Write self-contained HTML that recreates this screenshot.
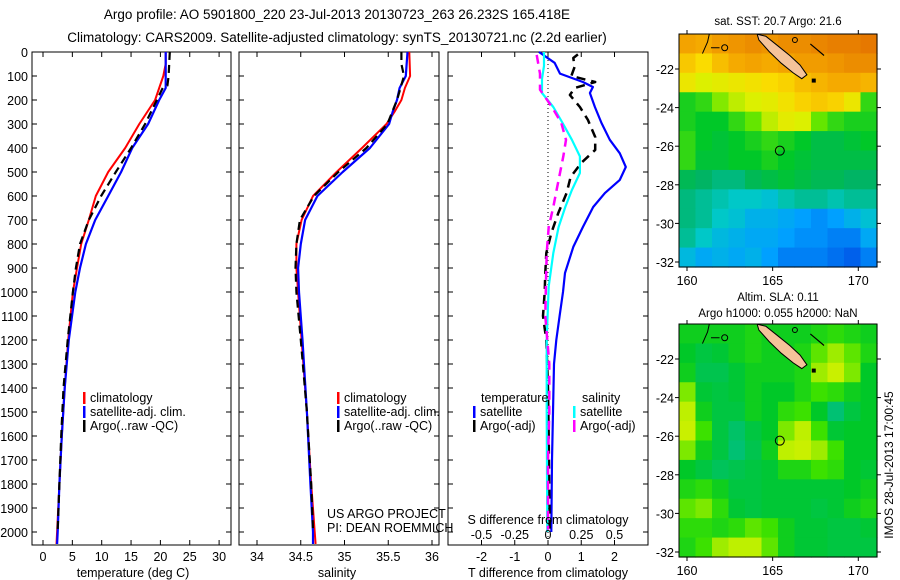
<!DOCTYPE html>
<html><head><meta charset="utf-8">
<style>
html,body{margin:0;padding:0;background:#fff;}
svg{display:block;font-family:"Liberation Sans",sans-serif;}
</style></head>
<body>
<svg id="c" width="900" height="580" viewBox="0 0 900 580" xmlns="http://www.w3.org/2000/svg">
<text x="337" y="19" font-size="13.5" text-anchor="middle">Argo profile: AO 5901800_220 23-Jul-2013 20130723_263 26.232S 165.418E</text>
<text x="337" y="42" font-size="13.5" text-anchor="middle">Climatology: CARS2009. Satellite-adjusted climatology: synTS_20130721.nc (2.2d earlier)</text>
<text x="778" y="25" font-size="11.5" text-anchor="middle">sat. SST: 20.7 Argo: 21.6</text>
<text x="778" y="301" font-size="11.5" text-anchor="middle">Altim. SLA: 0.11</text>
<text x="778" y="317" font-size="11.5" text-anchor="middle">Argo h1000: 0.055 h2000: NaN</text>
<text transform="translate(893,465) rotate(-90)" font-size="12" text-anchor="middle">IMOS 28-Jul-2013 17:00:45</text>
<g id="g"></g>
</svg>
<script>
// ---------- data ----------
const depthTicks=[0,100,200,300,400,500,600,700,800,900,1000,1100,1200,1300,1400,1500,1600,1700,1800,1900,2000];
const tempTicks=[0,5,10,15,20,25,30];
const salTicks=[34,34.5,35,35.5,36];
const salTickLabels=["34","34.5","35","35.5","36"];
const tdTicks=[-2,-1,0,1,2];
const sdTicks=[-0.5,-0.25,0,0.25,0.5];
const sdTickLabels=["-0.5","-0.25","0","0.25","0.5"];

const tDepth=[0,50,100,150,200,300,400,500,600,700,800,900,1000,1200,1400,1600,1800,2000,2050];
const tClim=[20.9,20.9,20.5,19.8,19.1,16.4,14.0,11.1,9.0,7.8,6.5,5.8,5.1,4.3,3.7,3.2,2.8,2.4,2.3];
const tSat=[20.9,20.9,20.9,20.9,19.8,17.9,15.2,13.3,11.1,8.9,7.3,6.3,5.5,4.4,3.7,3.2,2.8,2.5,2.4];
const tArgoDepth=[0,50,100,140,150,200,300,400,500,600,700,800,900,1000,1200,1400,1600,1800,1990];
const tArgo=[21.6,21.5,21.4,21.2,20.4,19.4,17.4,15.0,12.4,9.9,7.8,6.3,5.6,5.1,4.2,3.5,3.1,2.8,2.5];

const sDepth=[0,100,150,200,250,300,400,500,600,700,800,900,1000,1200,1500,1800,2000,2050];
const sClim=[35.74,35.75,35.69,35.65,35.57,35.48,35.2,34.91,34.64,34.51,34.45,34.45,34.47,34.51,34.57,34.62,34.66,34.67];
const sSat=[35.72,35.7,35.63,35.6,35.55,35.51,35.29,34.98,34.69,34.55,34.5,34.47,34.48,34.52,34.57,34.61,34.64,34.64];
const sArgoDepth=[0,50,100,200,300,400,500,600,700,800,900,1000,1200,1500,1800,1990];
const sArgo=[35.65,35.65,35.68,35.6,35.49,35.25,34.93,34.65,34.49,34.45,34.44,34.45,34.5,34.57,34.62,34.64];

const dTsatDepth=[0,45,90,125,146,171,229,296,366,422,479,533,588,646,729,812,921,1000,1100,1200,1300,1500,1700,2000];
const dTsat=[-0.27,0.2,0.36,1.05,1.35,1.26,1.41,1.61,1.86,2.16,2.34,2.16,1.71,1.36,1.05,0.76,0.51,0.45,0.35,0.25,0.18,0.15,0.12,0.1];
const dTargoDepth=[10,25,62,100,125,150,179,229,283,354,408,462,521,588,671,754,838,921,1000,1100,1200,1400,1600,1990];
const dTargo=[0.9,0.76,0.8,0.7,1.42,0.8,0.66,0.96,1.2,1.42,1.42,1.0,0.68,0.56,0.31,0.1,-0.05,-0.08,-0.1,-0.15,-0.05,0.0,0.02,0.05];
const dSsatDepth=[0,58,112,171,229,296,366,435,504,575,646,729,838,977,1200,1500,2000];
const dSsat=[-0.03,-0.03,-0.045,-0.045,0.04,0.11,0.18,0.24,0.24,0.18,0.13,0.08,0.04,0.005,-0.01,-0.01,-0.005];
const dSargoDepth=[12,90,157,229,296,366,435,504,575,646,729,838,950,1100,1300,1500,1700,1990];
const dSargo=[-0.085,-0.06,-0.06,0.03,0.1,0.135,0.115,0.09,0.065,0.04,0.005,-0.01,-0.015,-0.02,0.01,0.01,0.0,0.0];

const mapLons=[160,165,170];
const mapLatTicks=[-22,-24,-26,-28,-30,-32];
const sstGrid=[
[22.6,22.5,22.7,22.8,22.9,22.8,22.9,22.9,23.0,23.1,23.1,23.2],
[22.2,22.0,22.3,22.5,22.6,22.5,22.6,22.7,22.7,22.8,22.9,22.9],
[21.8,21.6,21.7,21.8,21.9,22.0,22.1,22.3,22.4,22.5,22.5,22.4],
[20.9,21.0,21.3,21.5,21.6,21.7,21.9,22.1,22.2,22.1,21.8,21.0],
[20.9,20.8,20.8,21.0,21.2,21.5,21.7,21.6,21.2,21.0,20.9,20.9],
[21.0,20.8,20.7,20.8,20.9,21.0,20.9,20.8,20.6,20.6,20.7,20.8],
[21.0,20.7,20.7,20.8,20.8,20.9,20.8,20.7,20.6,20.6,20.6,20.6],
[20.5,20.4,20.3,20.3,20.5,20.6,20.7,20.6,20.5,20.5,20.4,20.4],
[20.3,20.2,20.1,20.0,20.0,19.9,20.1,20.2,20.2,20.1,20.2,20.2],
[20.3,20.2,20.0,19.9,19.7,19.7,19.6,19.5,19.4,19.5,19.7,19.9],
[20.2,20.0,19.8,19.7,19.6,19.6,19.5,19.4,19.4,19.3,19.3,19.6],
[19.8,19.6,19.7,19.6,19.7,19.5,19.3,19.3,19.3,19.2,19.1,19.3]];
const slaGrid=[
[0.45,0.45,0.45,0.45,0.5,0.45,0.45,0.45,0.5,0.55,0.5,0.45],
[0.4,0.3,0.35,0.45,0.5,0.45,0.45,0.5,0.65,0.75,0.65,0.5],
[0.45,0.25,0.25,0.35,0.45,0.45,0.45,0.5,0.75,0.85,0.7,0.4],
[0.7,0.35,0.3,0.35,0.45,0.4,0.4,0.5,0.6,0.55,0.45,0.4],
[0.8,0.45,0.3,0.3,0.45,0.4,0.55,0.6,0.4,0.1,0.3,0.4],
[0.85,0.6,0.3,0.15,0.3,0.4,0.7,0.8,0.6,0.35,0.4,0.4],
[0.7,0.45,0.3,0.1,0.25,0.45,0.8,0.85,0.75,0.6,0.4,0.4],
[0.4,0.3,0.2,0.25,0.3,0.35,0.5,0.5,0.6,0.55,0.4,0.35],
[0.5,0.55,0.45,0.3,0.3,0.35,0.35,0.35,0.35,0.35,0.4,0.45],
[0.65,0.7,0.55,0.35,0.3,0.35,0.35,0.35,0.3,0.35,0.45,0.5],
[0.55,0.55,0.5,0.55,0.65,0.6,0.45,0.35,0.35,0.3,0.3,0.35],
[0.5,0.6,0.75,0.8,0.8,0.65,0.45,0.35,0.35,0.3,0.3,0.3]];
const argoLon=165.418, argoLat=-26.232;

// ---------- helpers ----------
const NS="http://www.w3.org/2000/svg";
const G=document.getElementById('g');
function mk(tag,attrs,parent){const e=document.createElementNS(NS,tag);for(const k in attrs)e.setAttribute(k,attrs[k]);(parent||G).appendChild(e);return e;}
function txt(x,y,s,size,anchor,parent){const e=mk('text',{x:x,y:y,'font-size':size,'text-anchor':anchor||'middle'},parent);e.textContent=s;return e;}

const yD=d=>52+d*0.24;               // depth axis (all profile panels)
const xT=v=>43+v*5.87;               // temperature
const xS=v=>257+(v-34)*87.5;         // salinity
const xTd=v=>548+v*33.25;            // T diff
const xSd=v=>548+v*133;              // S diff
const AXT=52,AXB=545;

function frame(x0,x1,name){
  const r=mk('rect',{x:x0,y:AXT,width:x1-x0,height:AXB-AXT,fill:'none',stroke:'#000','stroke-width':1});
  
  
}
function depthTickMarks(x0,x1){
  depthTicks.forEach(d=>{const y=yD(d);
    mk('line',{x1:x0,y1:y,x2:x0+5,y2:y,stroke:'#000'});
    mk('line',{x1:x1-5,y1:y,x2:x1,y2:y,stroke:'#000'});});
}
function xTickMarks(vals,fx){
  vals.forEach(v=>{const x=fx(v);
    mk('line',{x1:x,y1:AXT,x2:x,y2:AXT+5,stroke:'#000'});
    mk('line',{x1:x,y1:AXB-5,x2:x,y2:AXB,stroke:'#000'});});
}
function series(depths,vals,fx,color,w,dash,name){
  let d='';
  for(let i=0;i<depths.length;i++){d+=(i?'L':'M')+fx(vals[i]).toFixed(1)+','+yD(depths[i]).toFixed(1);}
  const p=mk('path',{d:d,fill:'none',stroke:color,'stroke-width':w,'stroke-linejoin':'round'});
  if(dash)p.setAttribute('stroke-dasharray',dash);
  
  
}
function legend(x,y,color,label,name){
  const g=mk('g',{});
  
  
  mk('rect',{x:x,y:y-10,width:2.5,height:12,fill:color},g);
  txt(x+7,y,label,12.5,'start',g);
}

// ---------- panel 1: temperature ----------
frame(32,231,'temperature-panel');
depthTickMarks(32,231);
xTickMarks(tempTicks,xT);
depthTicks.forEach(d=>{const t=txt(28,yD(d)+5,String(d),12.5,'end');
  
  });
tempTicks.forEach(v=>{const t=txt(xT(v),561,String(v),12.5);
  
  });
txt(133,577,'temperature (deg C)',12.5);
series(tDepth,tClim,xT,'#f00',2,null,'temp-climatology-line');
series(tDepth,tSat,xT,'#00f',2.2,null,'temp-satellite-line');
series(tArgoDepth,tArgo,xT,'#000',2.2,'8,5','temp-argo-line');
legend(83,402,'#f00','climatology','legend-climatology');
legend(83,416,'#00f','satellite-adj. clim.','legend-satellite');
legend(83,430,'#000','Argo(..raw -QC)','legend-argo');

// ---------- panel 2: salinity ----------
frame(239,439,'salinity-panel');
depthTickMarks(239,439);
xTickMarks(salTicks,xS);
salTicks.forEach((v,i)=>{const t=txt(xS(v),561,salTickLabels[i],12.5);
  
  });
txt(337,577,'salinity',12.5);
series(sDepth,sClim,xS,'#f00',2,null,'sal-climatology-line');
series(sDepth,sSat,xS,'#00f',2.2,null,'sal-satellite-line');
series(sArgoDepth,sArgo,xS,'#000',2.2,'8,5','sal-argo-line');
legend(337,402,'#f00','climatology','legend-climatology-2');
legend(337,416,'#00f','satellite-adj. clim.','legend-satellite-2');
legend(337,430,'#000','Argo(..raw -QC)','legend-argo-2');
txt(327,518,'US ARGO PROJECT',12.5,'start');
txt(327,532,'PI: DEAN ROEMMICH',12.5,'start');

// ---------- panel 3: differences ----------
frame(448,648,'difference-panel');
depthTickMarks(448,648);
xTickMarks(tdTicks,xTd);
mk('line',{x1:xTd(0),y1:AXT,x2:xTd(0),y2:AXB,stroke:'#000','stroke-dasharray':'1,3'});
series(dTsatDepth,dTsat,xTd,'#00f',2.2,null,'tdiff-satellite-line');
series(dTargoDepth,dTargo,xTd,'#000',2.5,'9,6','tdiff-argo-line');
series(dSsatDepth,dSsat,xSd,'#0ff',2.2,null,'sdiff-satellite-line');
series(dSargoDepth,dSargo,xSd,'#f0f',2.5,'9,6','sdiff-argo-line');
tdTicks.forEach(v=>{const t=txt(xTd(v),561,String(v),12.5);
  
  });
sdTicks.forEach((v,i)=>{const t=txt(xSd(v),539,sdTickLabels[i],12.5);
  
  });
txt(548,524,'S difference from climatology',12.5);
txt(548,577,'T difference from climatology',12.5);
txt(481,402,'temperature',12.5,'start');
txt(582,402,'salinity',12.5,'start');
legend(473,416,'#00f','satellite','legend-tdiff-satellite');
legend(473,430,'#000','Argo(-adj)','legend-tdiff-argo');
legend(573,416,'#0ff','satellite','legend-sdiff-satellite');
legend(573,430,'#f0f','Argo(-adj)','legend-sdiff-argo');

// ---------- maps ----------
function lerpStops(stops,v){
  if(v<=stops[0][0])return stops[0][1];
  for(let i=1;i<stops.length;i++){if(v<=stops[i][0]){const a=stops[i-1],b=stops[i],t=(v-a[0])/(b[0]-a[0]);
    return a[1].map((c,k)=>Math.round(c+(b[1][k]-c)*t));}}
  return stops[stops.length-1][1];
}
const sstStops=[[19.0,[0,80,230]],[19.5,[0,160,255]],[20.0,[0,200,200]],[20.4,[0,180,100]],[20.8,[0,200,40]],[21.2,[100,230,0]],[21.6,[220,240,0]],[22.0,[250,220,0]],[22.5,[245,170,0]],[23.2,[230,120,0]]];
const slaStops=[[0,[0,190,140]],[0.4,[0,200,40]],[0.6,[60,225,0]],[0.8,[190,240,0]],[1,[235,240,0]]];

function drawMap(top,grid,stops,name,cellName){
  const L=679,R=877,B=top+233;
  const fx=lon=>687+(lon-160)*17.13;
  const fy=lat=>top+35+(-22-lat)*19.3;
  const g=mk('g',{});
  
  
  const cw=(R-L)/grid[0].length, ch=(B-top)/grid.length;
  grid.forEach((row,r)=>row.forEach((v,c)=>{
    const col=lerpStops(stops,v);
    const cell=mk('rect',{x:(L+c*cw).toFixed(2),y:(top+r*ch).toFixed(2),width:(cw+0.6).toFixed(2),height:(ch+0.6).toFixed(2),fill:'rgb('+col.join(',')+')'},g);
    
    
  }));
  // New Caledonia
  const isl=[[164.1,-20.2],[164.6,-20.3],[165.3,-20.8],[166.0,-21.3],[166.6,-21.8],[167.0,-22.3],[166.7,-22.5],[166.2,-22.2],[165.5,-21.7],[164.8,-21.1],[164.2,-20.5]];
  const land=mk('polygon',{points:isl.map(p=>fx(p[0]).toFixed(1)+','+fy(p[1]).toFixed(1)).join(' '),fill:'#f5c39a',stroke:'#000','stroke-width':1},g);
  
  
  mk('path',{d:`M${fx(160.9)},${fy(-21.2)} L${fx(161.2)},${fy(-20.6)} L${fx(161.3)},${fy(-20.2)} M${fx(161.4)},${fy(-20.9)} L${fx(161.9)},${fy(-20.9)}`,fill:'none',stroke:'#000','stroke-width':1},g);
  mk('circle',{cx:fx(162.2),cy:fy(-20.9),r:3,fill:'none',stroke:'#000'},g);
  mk('circle',{cx:fx(166.3),cy:fy(-20.5),r:2.5,fill:'none',stroke:'#000'},g);
  mk('path',{d:`M${fx(167.2)},${fy(-20.7)} L${fx(167.6)},${fy(-21.0)} L${fx(168.0)},${fy(-21.3)}`,fill:'none',stroke:'#000','stroke-width':1.2},g);
  mk('rect',{x:fx(167.4)-2,y:fy(-22.6)-2,width:4,height:4,fill:'#000'},g);
  const m=mk('circle',{cx:fx(argoLon),cy:fy(argoLat),r:4.5,fill:'none',stroke:'#000','stroke-width':1},g);
  
  
  mk('rect',{x:L,y:top,width:R-L,height:B-top,fill:'none',stroke:'#000'},g);
  mapLons.forEach(lon=>{const x=fx(lon);
    mk('line',{x1:x,y1:top,x2:x,y2:top-4,stroke:'#000'},g);
    mk('line',{x1:x,y1:B,x2:x,y2:B+4,stroke:'#000'},g);
    const t=txt(x,B+18,String(lon),12.5,'middle',g);
    
    });
  mapLatTicks.forEach(lat=>{const y=fy(lat);
    mk('line',{x1:L,y1:y,x2:L-4,y2:y,stroke:'#000'},g);
    mk('line',{x1:R,y1:y,x2:R+4,y2:y,stroke:'#000'},g);
    const t=txt(L-5,y+5,String(lat),12.5,'end',g);
    
    });
}
drawMap(34,sstGrid,sstStops,'sst-map','sst-cell');
drawMap(324,slaGrid,slaStops,'sla-map','sla-cell');
</script>
</body></html>
